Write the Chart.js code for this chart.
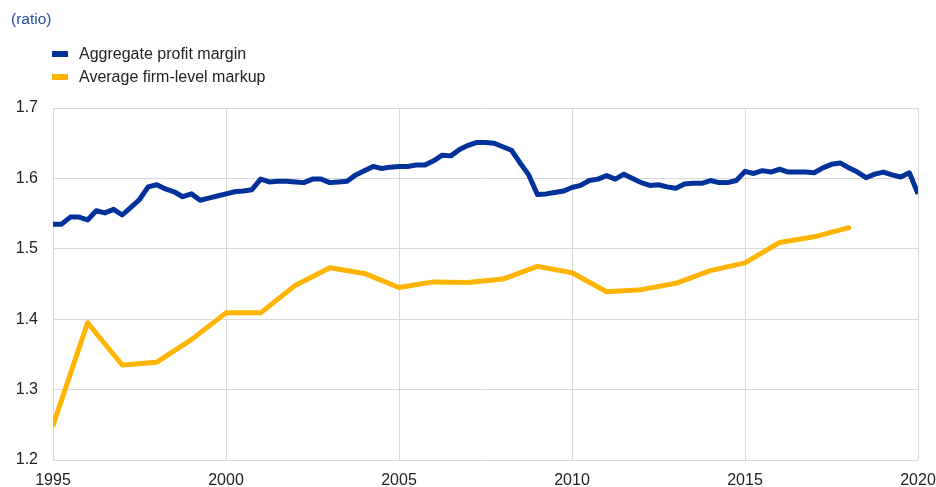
<!DOCTYPE html>
<html>
<head>
<meta charset="utf-8">
<script src="https://cdn.jsdelivr.net/npm/chart.js@4"></script>
<style>
  html, body { margin:0; padding:0; background:#fff; }
  #wrap { position:relative; width:936px; height:487px; font-family:"Liberation Sans", Arial, sans-serif; }
  canvas { position:absolute; left:0; top:0; }
  .unit { position:absolute; left:11px; top:10px; font-size:15.5px; color:#1f4ea6; }
  .leg { position:absolute; left:52px; font-size:16px; color:#222; white-space:nowrap; }
  .leg span.box { position:absolute; left:0; top:7px; width:16px; height:6px; }
  .leg span.txt { position:absolute; left:27px; top:0; line-height:20px; }
</style>
</head>
<body>
<div id="wrap">
  <canvas id="c" width="936" height="487"></canvas>
  <div class="unit">(ratio)</div>
  <div class="leg" style="top:44px;"><span class="box" style="background:#003299"></span><span class="txt">Aggregate profit margin</span></div>
  <div class="leg" style="top:67px;"><span class="box" style="background:#FFB400"></span><span class="txt">Average firm-level markup</span></div>
</div>
<script>
// Series names
const seriesNames = ["Aggregate profit margin", "Average firm-level markup"];

// Aggregate profit margin: quarterly, 1995Q1 .. 2020Q1
const profitStartYear = 1995;
const profitMargin = [
  1.535, 1.535, 1.545, 1.545,   // 1995
  1.541, 1.554, 1.551, 1.556,   // 1996
  1.548, 1.559, 1.570, 1.588,   // 1997
  1.591, 1.585, 1.581, 1.574,   // 1998
  1.578, 1.569, 1.572, 1.575,   // 1999
  1.578, 1.581, 1.582, 1.584,   // 2000
  1.599, 1.595, 1.596, 1.596,   // 2001
  1.595, 1.594, 1.599, 1.599,   // 2002
  1.594, 1.595, 1.596, 1.605,   // 2003
  1.611, 1.617, 1.614, 1.616,   // 2004
  1.617, 1.617, 1.619, 1.619,   // 2005
  1.625, 1.633, 1.632, 1.641,   // 2006
  1.647, 1.651, 1.651, 1.650,   // 2007
  1.645, 1.640, 1.622, 1.605,   // 2008
  1.577, 1.578, 1.580, 1.582,   // 2009
  1.587, 1.590, 1.597, 1.599,   // 2010
  1.604, 1.599, 1.606, 1.600,   // 2011
  1.594, 1.590, 1.591, 1.588,   // 2012
  1.586, 1.592, 1.593, 1.593,   // 2013
  1.597, 1.594, 1.594, 1.597,   // 2014
  1.610, 1.607, 1.611, 1.609,   // 2015
  1.613, 1.609, 1.609, 1.609,   // 2016
  1.608, 1.615, 1.620, 1.622,   // 2017
  1.615, 1.609, 1.601, 1.606,   // 2018
  1.609, 1.605, 1.602, 1.608,   // 2019
  1.578                         // 2020
];

// Average firm-level markup: annual
const markupYears = [1995,1996,1997,1998,1999,2000,2001,2002,2003,2004,2005,2006,2007,2008,2009,2010,2011,2012,2013,2014,2015,2016,2017,2018];
const markupValues = [1.249,1.395,1.335,1.339,1.371,1.409,1.409,1.448,1.473,1.465,1.445,1.453,1.452,1.457,1.475,1.466,1.439,1.442,1.451,1.469,1.480,1.509,1.517,1.530];

// Axis ticks
const xTickYears = [1995, 2000, 2005, 2010, 2015, 2020];
const yTickValues = [1.2, 1.3, 1.4, 1.5, 1.6, 1.7];

const profitPoints = profitMargin.map((v, i) => ({ x: profitStartYear + i / 4, y: v }));
const markupPoints = markupYears.map((yr, i) => ({ x: yr, y: markupValues[i] }));

new Chart(document.getElementById('c'), {
  type: 'line',
  data: {
    datasets: [
      { label: seriesNames[0], data: profitPoints, borderColor: '#003299', backgroundColor: '#003299', borderWidth: 5, pointRadius: 0, tension: 0, borderJoinStyle: 'round', borderCapStyle: 'butt' },
      { label: seriesNames[1], data: markupPoints, borderColor: '#FFB400', backgroundColor: '#FFB400', borderWidth: 5, pointRadius: 0, tension: 0, borderJoinStyle: 'round', borderCapStyle: 'round' }
    ]
  },
  options: {
    responsive: false,
    animation: false,
    devicePixelRatio: 1,
    layout: { padding: { top: 108, right: 18, bottom: 0, left: 0 } },
    plugins: { legend: { display: false }, tooltip: { enabled: false } },
    scales: {
      x: {
        type: 'linear',
        min: 1995, max: 2020,
        afterBuildTicks: (s) => { s.ticks = xTickYears.map(v => ({ value: v })); },
        afterFit: (s) => { s.height = 27; s.paddingLeft = 0; s.paddingRight = 0; },
        ticks: { color: '#222', font: { family: 'Liberation Sans', size: 16 }, padding: 11, maxRotation: 0, callback: (v) => String(v) },
        grid: { color: '#d9d9d9', lineWidth: 1, drawTicks: false },
        border: { display: false }
      },
      y: {
        min: 1.2, max: 1.7,
        afterBuildTicks: (s) => { s.ticks = yTickValues.map(v => ({ value: v })); },
        afterFit: (s) => { s.width = 53; s.paddingTop = 0; s.paddingBottom = 0; },
        ticks: { color: '#222', font: { family: 'Liberation Sans', size: 16 }, padding: 15, callback: (v) => Number(v).toFixed(1) },
        grid: { color: '#d9d9d9', lineWidth: 1, drawTicks: false },
        border: { display: false }
      }
    }
  }
});
</script>
</body>
</html>
